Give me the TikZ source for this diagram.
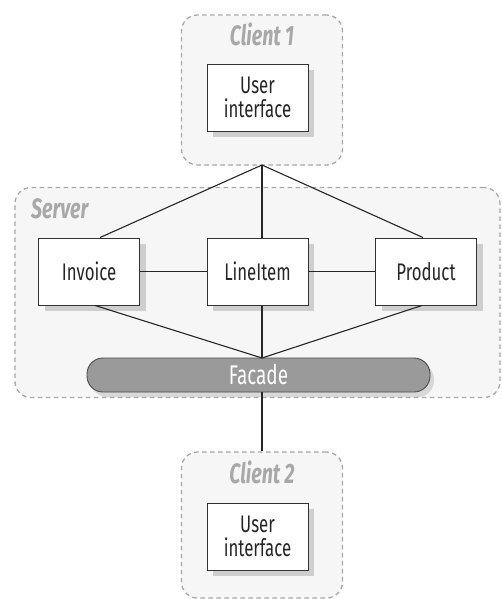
\documentclass[tikz,border=0pt]{standalone}
\usepackage{fontspec}
\setmainfont[FakeStretch=0.7]{Fira Sans}
\usetikzlibrary{shadows,calc}
\definecolor{grpfill}{HTML}{F6F6F6}
\definecolor{grpline}{HTML}{A8A8A8}
\definecolor{facfill}{HTML}{9A9A9A}
\tikzset{
  group/.style={draw=grpline, dashed, dash pattern=on 4.5pt off 3.5pt, line width=1.3pt, fill=grpfill, rounded corners=16pt, inner sep=0pt},
  grplabel/.style={text=grpline, font=\fontsize{28}{30}\selectfont\bfseries\itshape, inner sep=0pt},
  classbox/.style={draw=black!80, fill=white, line width=0.9pt, minimum width=101pt, minimum height=67pt, inner sep=0pt,
    text=black!85, font=\fontsize{24}{24}\selectfont, align=center,
    drop shadow={shadow xshift=6pt, shadow yshift=-6pt, fill=black, opacity=0.16}},
  link/.style={draw=black!85, line width=1.1pt},
}
\begin{document}
\begin{tikzpicture}[x=1pt,y=-1pt]
\useasboundingbox (0,0) rectangle (502,599);
% groups
\node[group, minimum width=485pt, minimum height=210pt] (server) at (257.5,292.5) {};
\node[grplabel, anchor=base west] (serverlbl) at (31,218) {Server};
\node[group, minimum width=161pt, minimum height=150pt] (client1) at (262,90) {};
\node[grplabel, anchor=base] (c1lbl) at (262,46) {Client 1};
\node[group, minimum width=161pt, minimum height=146pt] (client2) at (262,525) {};
\node[grplabel, anchor=base] (c2lbl) at (262,483) {Client 2};
% classes
\node[classbox] (ui1) at (257.5,97.5) {User\\interface};
\node[classbox] (ui2) at (257.5,536.5) {User\\interface};
\node[classbox] (inv) at (89,271.5) {Invoice};
\node[classbox] (li) at (257.5,271.5) {LineItem};
\node[classbox] (prod) at (426,271.5) {Product};
\node[draw=black!70, fill=facfill, line width=0.9pt, rounded corners=16pt, minimum width=343pt, minimum height=34pt, inner sep=0pt,
  text=white, font=\fontsize{27}{28}\selectfont,
  drop shadow={shadow xshift=4pt, shadow yshift=-5pt, fill=black, opacity=0.12}] (fac) at (258.5,375) {Facade};
% connectors
\coordinate (apex) at (262,165);
\coordinate (ftop) at (262,358);
\coordinate (fbot) at (262,392);
\path[link] (apex) -- ([xshift=11pt]inv.north);
\path[link] (apex) -- ([xshift=4.5pt]li.north);
\path[link] (apex) -- ([xshift=-3pt]prod.north);
\path[link] ([xshift=6pt]inv.south) -- (ftop);
\path[link] ([xshift=4.5pt]li.south) -- (ftop);
\path[link] ([xshift=-4pt]prod.south) -- (ftop);
\path[link] (inv.east) -- (li.west);
\path[link] (li.east) -- (prod.west);
\path[link] (fbot) -- (client2.north -| fbot);
\end{tikzpicture}
\end{document}
